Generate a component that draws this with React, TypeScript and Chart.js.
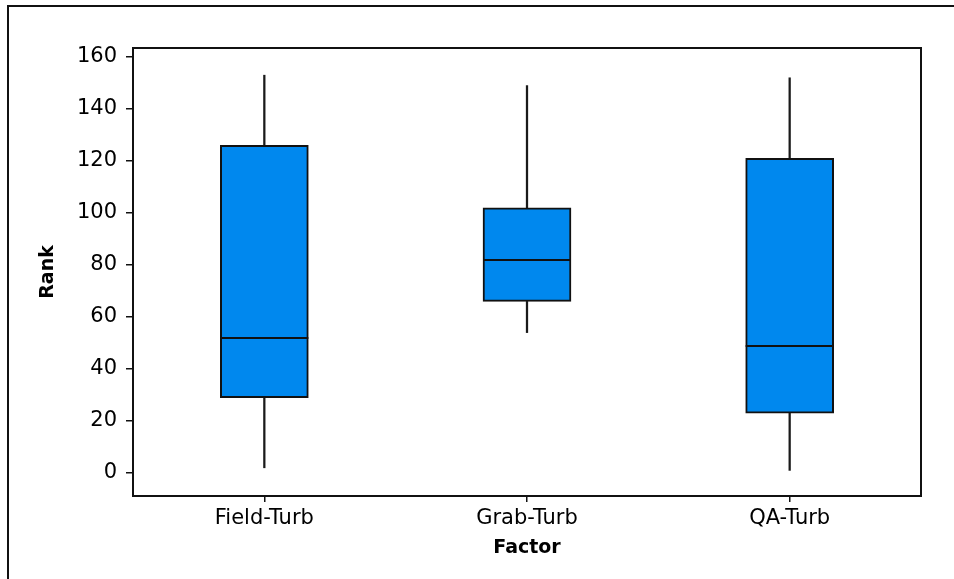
import React, { useEffect, useRef } from "react";
import { Chart, registerables } from "chart.js";

Chart.register(...registerables);

// Box plot summary per factor level
const categories = ["Field-Turb", "Grab-Turb", "QA-Turb"];
const whiskerLow = [2, 54, 1];
const quartile1 = [29, 66, 23];
const medians = [52, 82, 49];
const quartile3 = [126, 102, 121];
const whiskerHigh = [153, 149, 152];
const rankTicks = [0, 20, 40, 60, 80, 100, 120, 140, 160];

const BOX_FILL = "#0088EE";
const INK = "#111111";

// Median lines across each box, plus the frame around the plot area
const boxDecor = {
  id: "boxDecor",
  afterDatasetsDraw(chart: any) {
    const { ctx, scales } = chart;
    const meta = chart.getDatasetMeta(0);
    ctx.save();
    ctx.strokeStyle = INK;
    ctx.lineWidth = 1.8;
    meta.data.forEach((bar: any, i: number) => {
      const y = Math.round(scales.y.getPixelForValue(medians[i]));
      ctx.beginPath();
      ctx.moveTo(bar.x - bar.width / 2, y);
      ctx.lineTo(bar.x + bar.width / 2, y);
      ctx.stroke();
    });
    ctx.restore();
  },
  afterDraw(chart: any) {
    const { ctx, chartArea } = chart;
    ctx.save();
    ctx.strokeStyle = INK;
    ctx.lineWidth = 2;
    ctx.strokeRect(
      chartArea.left,
      chartArea.top,
      chartArea.right - chartArea.left,
      chartArea.bottom - chartArea.top
    );
    ctx.restore();
  },
};

export default function App() {
  const canvasRef = useRef<HTMLCanvasElement | null>(null);

  useEffect(() => {
    const canvas = canvasRef.current;
    if (!canvas) return;
    const chart = new Chart(canvas, {
      type: "bar",
      data: {
        labels: categories,
        datasets: [
          {
            label: "Box",
            data: quartile1.map((q, i) => [q, quartile3[i]]) as any,
            backgroundColor: BOX_FILL,
            borderColor: INK,
            borderWidth: 2,
            borderSkipped: false,
            barThickness: 88,
            grouped: false,
          },
          {
            label: "Upper whisker",
            data: quartile3.map((q, i) => [q, whiskerHigh[i]]) as any,
            backgroundColor: "#1a1a1a",
            borderWidth: 0,
            barThickness: 1.6,
            grouped: false,
          },
          {
            label: "Lower whisker",
            data: whiskerLow.map((w, i) => [w, quartile1[i]]) as any,
            backgroundColor: "#1a1a1a",
            borderWidth: 0,
            barThickness: 1.6,
            grouped: false,
          },
        ],
      },
      options: {
        responsive: false,
        animation: false,
        devicePixelRatio: 1,
        layout: { padding: { left: 0, right: 33, top: 48, bottom: 0 } },
        plugins: {
          legend: { display: false },
          tooltip: { enabled: false },
        },
        scales: {
          x: {
            offset: true,
            grid: {
              display: true,
              offset: false,
              drawOnChartArea: false,
              drawTicks: true,
              tickLength: 6,
              color: INK,
              lineWidth: 1.5,
            },
            border: { display: false },
            ticks: {
              color: "#000",
              padding: 4,
              font: { family: "DejaVu Sans", size: 21 },
            },
            title: {
              display: true,
              text: "Factor",
              color: "#000",
              font: { family: "DejaVu Sans", size: 19, weight: "bold" },
              padding: { top: 0, bottom: 20 },
            },
            afterFit(axis: any) {
              axis.height = 83;
            },
          },
          y: {
            min: -8.85,
            max: 163.46,
            grid: {
              display: true,
              drawOnChartArea: false,
              drawTicks: true,
              tickLength: 7,
              color: INK,
              lineWidth: 1.5,
            },
            border: { display: false },
            afterBuildTicks(axis: any) {
              axis.ticks = rankTicks.map((v) => ({ value: v }));
            },
            ticks: {
              color: "#000",
              padding: 9,
              font: { family: "DejaVu Sans", size: 21 },
            },
            title: {
              display: true,
              text: "Rank",
              color: "#000",
              font: { family: "DejaVu Sans", size: 19, weight: "bold" },
              padding: { top: 37, bottom: 0 },
            },
            afterFit(axis: any) {
              axis.width = 133;
            },
          },
        },
      },
      plugins: [boxDecor],
    });
    return () => chart.destroy();
  }, []);

  return (
    <div
      style={{
        position: "fixed",
        left: 0,
        top: 0,
        width: 954,
        height: 579,
        overflow: "hidden",
        background: "#fff",
      }}
    >
      <div
        style={{
          position: "absolute",
          left: 7,
          top: 5,
          width: 2000,
          height: 2000,
          borderLeft: "2px solid #111",
          borderTop: "2px solid #111",
        }}
      />
      <canvas
        ref={canvasRef}
        width={954}
        height={579}
        style={{ position: "absolute", left: 0, top: 0, width: 954, height: 579 }}
      />
    </div>
  );
}
